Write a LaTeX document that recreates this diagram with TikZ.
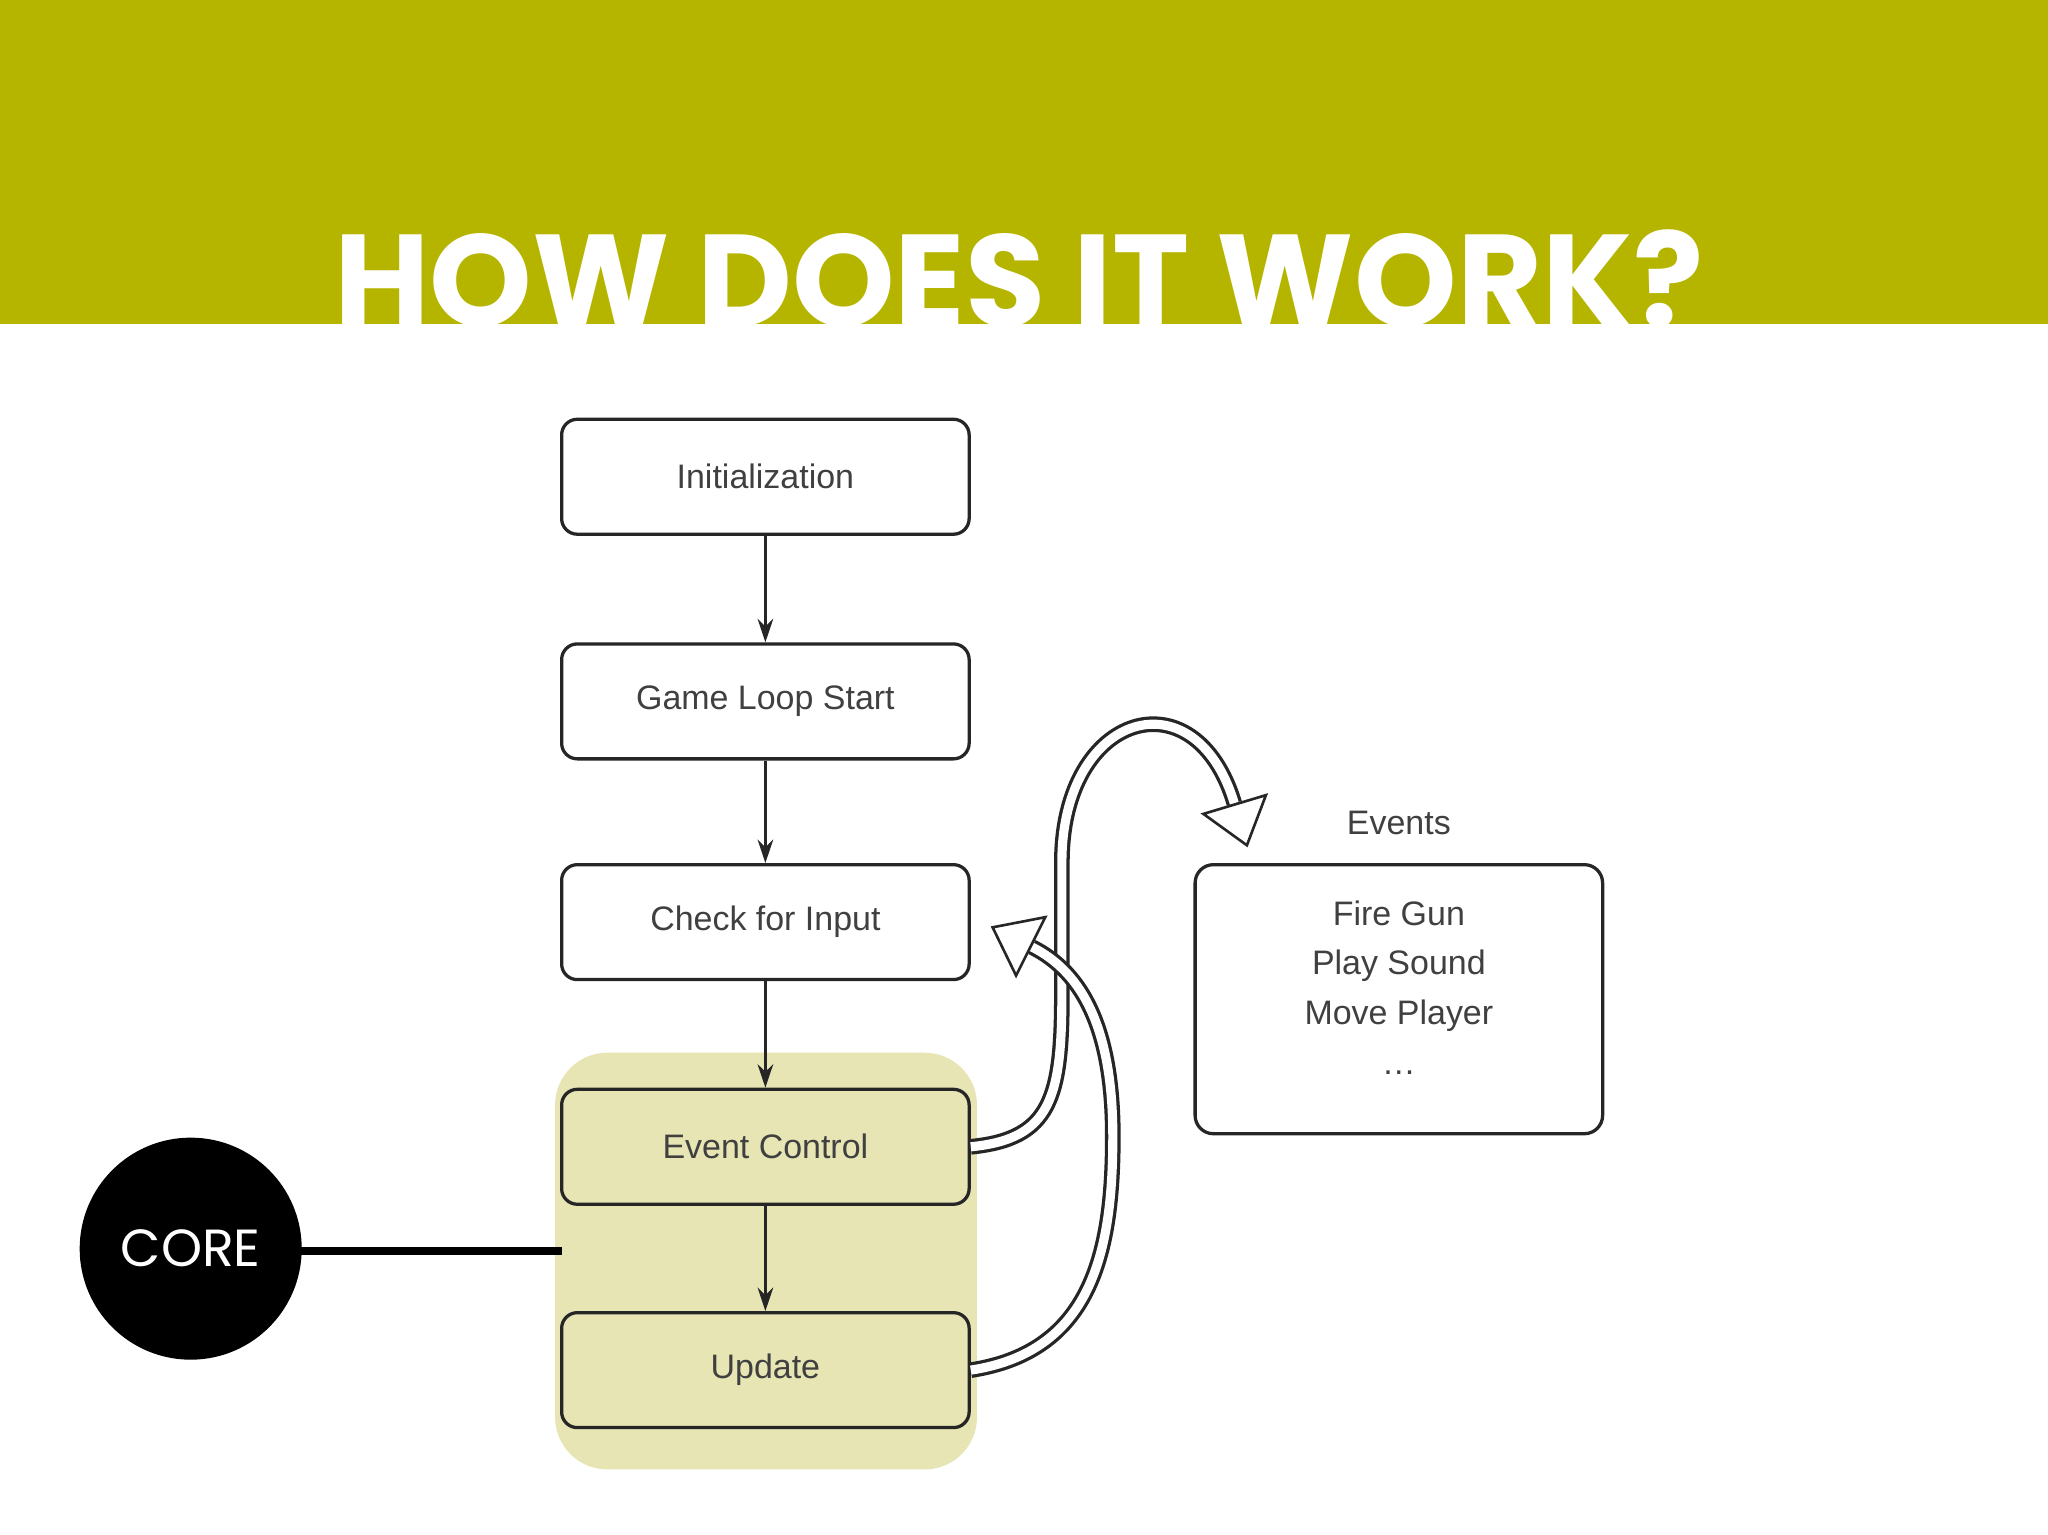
\documentclass[tikz,border=0pt]{standalone}
\usepackage{fontspec}
\setmainfont{Liberation Sans}
\newfontfamily\titlefont{Poppins}
\usetikzlibrary{shapes.geometric}
\definecolor{olive}{HTML}{B5B500}
\definecolor{hilite}{HTML}{E6E5B3}
\tikzset{
  box/.style={draw=black!85, line width=2.5pt, rounded corners=12pt, minimum width=312pt, minimum height=88pt, font=\fontsize{26}{30}\selectfont, text=black!75},
  flow/.style={-{Stealth[length=18pt,width=12pt]}, line width=2pt, black!85},
  head/.style={isosceles triangle, isosceles triangle apex angle=75, draw=black!85, line width=2pt, fill=white, inner sep=0pt, minimum height=30pt, sloped, pos=1, anchor=lower side, allow upside down},
}
\usetikzlibrary{arrows.meta}
\begin{document}
\begin{tikzpicture}[x=1pt,y=-1pt]
\useasboundingbox (0,0) rectangle (1568,1175);
\fill[white] (0,0) rectangle (1568,1175);
\fill[olive] (0,0) rectangle (1568,248);
\begin{scope}
\clip (0,0) rectangle (1568,248);
\node[anchor=base, text=white, font=\titlefont\bfseries\fontsize{100}{110}\selectfont, inner sep=0] (title) at (780,250) {HOW DOES IT WORK?};
\end{scope}
\fill[hilite, rounded corners=40pt] (425,806) rectangle (748,1125);
\node[box] (init) at (586,365) {Initialization};
\node[box] (glp) at (586,537) {Game Loop Start};
\node[box] (chk) at (586,706) {Check for Input};
\node[box, fill=hilite] (ec) at (586,878) {Event Control};
\node[box, fill=hilite] (upd) at (586,1049) {Update};
\draw[flow] (init) -- (glp);
\draw[flow] (glp) -- (chk);
\draw[flow] (chk) -- (ec);
\draw[flow] (ec) -- (upd);
\node[box, minimum height=206pt, rounded corners=14pt] (ev) at (1071,765) {};
\node[font=\fontsize{26}{30}\selectfont, text=black!75] (evl) at (1071,630) {Events};
\node[font=\fontsize{26}{38}\selectfont, text=black!75, align=center, anchor=north] (evt) at (1071,686) {Fire Gun\\Play Sound\\Move Player\\\ldots};
% hollow arrows
\coordinate (a1) at ([yshift=0pt]ec.east);
\coordinate (a2) at (upd.east);
\draw[line width=12pt, black!85] (a1) .. controls (805,872) and (813,840) .. (813,760) -- (813,660) .. controls (813,545) and (915,515) .. (945,615);
\draw[line width=7pt, white] (a1) .. controls (805,872) and (813,840) .. (813,760) -- (813,660) .. controls (813,545) and (915,515) .. (945,615);
\path (813,660) .. controls (813,545) and (915,515) .. (945,615) node[head, minimum width=50pt] (h1) {};
\draw[line width=12pt, black!85] (a2) .. controls (835,1035) and (852,960) .. (852,870) .. controls (852,790) and (830,745) .. (790,725);
\draw[line width=7pt, white] (a2) .. controls (835,1035) and (852,960) .. (852,870) .. controls (852,790) and (830,745) .. (790,725);
\path (852,870) .. controls (852,790) and (830,745) .. (790,725) node[head, minimum width=50pt] (h2) {};
% core
\draw[line width=6pt] (146,958) -- (430,958);
\node[circle, fill=black, minimum size=170pt, text=white, font=\titlefont\fontsize{40}{44}\selectfont] (core) at (146,956) {CORE};
\end{tikzpicture}
\end{document}
